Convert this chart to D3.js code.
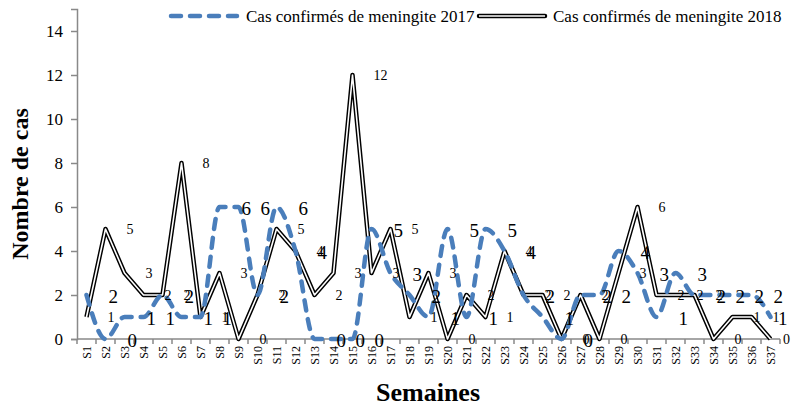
<!DOCTYPE html>
<html>
<head>
<meta charset="utf-8">
<script src="https://cdn.jsdelivr.net/npm/d3@7"></script>
<style>
  body { margin: 0; background: #fff; }
  text { font-family: "Liberation Serif", "Times New Roman", serif; }
</style>
</head>
<body>
<figure id="chart" style="margin:0"></figure>
<script>
// semaines S1..S37
const weeks = d3.range(1, 38).map(i => "S" + i);
const cases2017 = [2, 0, 1, 1, 2, 1, 1, 6, 6, 2, 6, 4, 0, 0, 0, 5, 3, 2, 1, 5, 1, 5, 4, 2, 1, 0, 2, 2, 4, 3, 1, 3, 2, 2, 2, 2, 1];
const cases2018 = [1, 5, 3, 2, 2, 8, 1, 3, 0, 2, 5, 4, 2, 3, 12, 3, 5, 1, 3, 0, 2, 1, 4, 2, 2, 0, 2, 0, 3, 6, 2, 2, 2, 0, 1, 1, 0];
const yTicks = [0, 2, 4, 6, 8, 10, 12, 14];
const seriesNames = ["Cas confirmés de meningite 2017", "Cas confirmés de meningite 2018"];

const width = 791, height = 406;
const plot = { left: 77, right: 780, top: 9, bottom: 339 };
const axisColor = "#898989";
const blue = "#4a7ebb";

const svg = d3.select("#chart").append("svg")
  .attr("width", width)
  .attr("height", height);

const x = d3.scaleBand().domain(weeks).range([plot.left, plot.right]);
const y = d3.scaleLinear().domain([0, 15]).range([plot.bottom, plot.top]);
const cx = d => x(d) + x.bandwidth() / 2;

// y axis
const yAxis = svg.append("g")
  .attr("transform", "translate(" + plot.left + ",0)")
  .call(d3.axisLeft(y).tickValues(yTicks).tickSize(6).tickPadding(8));
yAxis.select(".domain").attr("stroke", axisColor).attr("stroke-width", 1.5);
yAxis.selectAll(".tick line").attr("stroke", axisColor).attr("stroke-width", 1.5);
yAxis.selectAll(".tick text")
  .style("font-family", "Liberation Serif")
  .style("font-size", "17px")
  .attr("fill", "#000");

// x axis (ticks between categories)
const xAxis = svg.append("g").attr("transform", "translate(0," + plot.bottom + ")");
xAxis.append("line")
  .attr("x1", plot.left).attr("x2", plot.right)
  .attr("stroke", axisColor).attr("stroke-width", 1.5);
xAxis.selectAll(".xt")
  .data(weeks.concat(["end"]))
  .enter().append("line")
  .attr("x1", (d, i) => i < weeks.length ? x(d) : plot.right)
  .attr("x2", (d, i) => i < weeks.length ? x(d) : plot.right)
  .attr("y1", 0).attr("y2", 5)
  .attr("stroke", axisColor).attr("stroke-width", 1.5);
xAxis.selectAll(".xl")
  .data(weeks)
  .enter().append("text")
  .attr("transform", d => "translate(" + cx(d) + ",7) rotate(-90)")
  .attr("text-anchor", "end")
  .attr("dominant-baseline", "central")
  .style("font-size", "12px")
  .text(d => d);

// lines
const line = d3.line()
  .x((d, i) => cx(weeks[i]))
  .y(d => y(d));

const line2017 = d3.line()
  .x((d, i) => cx(weeks[i]))
  .y(d => y(d))
  .curve(d3.curveMonotoneX);

svg.append("path")
  .datum(cases2018)
  .attr("d", line)
  .attr("fill", "none")
  .attr("stroke", "#000")
  .attr("stroke-width", 4.5)
  .attr("stroke-linejoin", "round");
svg.append("path")
  .datum(cases2018)
  .attr("d", line)
  .attr("fill", "none")
  .attr("stroke", "#fff")
  .attr("stroke-width", 1.6)
  .attr("stroke-linejoin", "round");

svg.append("path")
  .datum(cases2017)
  .attr("d", line2017)
  .attr("fill", "none")
  .attr("stroke", blue)
  .attr("stroke-width", 4.5)
  .attr("stroke-dasharray", "10,9")
  .attr("stroke-linecap", "round");

// data labels (left edge just right of the point, kept inside the frame)
const labelX = (i, off, maxX) => Math.min(cx(weeks[i]) + off, maxX);
svg.selectAll(".lab18")
  .data(cases2018)
  .enter().append("text")
  .attr("x", (d, i) => labelX(i, 21, 783))
  .attr("y", d => y(d))
  .attr("dominant-baseline", "central")
  .style("font-size", "14px")
  .text(d => d);
svg.selectAll(".lab17")
  .data(cases2017)
  .enter().append("text")
  .attr("x", (d, i) => labelX(i, 22, 778))
  .attr("y", d => y(d) + 1)
  .attr("dominant-baseline", "central")
  .style("font-size", "19px")
  .text(d => d);

// axis titles
svg.append("text")
  .attr("x", 428).attr("y", 401)
  .attr("text-anchor", "middle")
  .style("font-size", "26px")
  .style("font-weight", "bold")
  .text("Semaines");
svg.append("text")
  .attr("transform", "translate(28,184) rotate(-90)")
  .attr("text-anchor", "middle")
  .style("font-size", "24px")
  .style("font-weight", "bold")
  .text("Nombre de cas");

// legend
const legend = svg.append("g");
legend.append("line")
  .attr("x1", 171).attr("x2", 237).attr("y1", 16).attr("y2", 16)
  .attr("stroke", blue).attr("stroke-width", 4.5)
  .attr("stroke-dasharray", "10,9").attr("stroke-linecap", "round");
legend.append("text")
  .attr("x", 246).attr("y", 16)
  .attr("dominant-baseline", "central")
  .style("font-size", "17px")
  .text(seriesNames[0]);
legend.append("line")
  .attr("x1", 479).attr("x2", 545).attr("y1", 16).attr("y2", 16)
  .attr("stroke", "#000").attr("stroke-width", 4.5).attr("stroke-linecap", "round");
legend.append("line")
  .attr("x1", 479).attr("x2", 545).attr("y1", 16).attr("y2", 16)
  .attr("stroke", "#fff").attr("stroke-width", 1.6);
legend.append("text")
  .attr("x", 553).attr("y", 16)
  .attr("dominant-baseline", "central")
  .style("font-size", "17px")
  .text(seriesNames[1]);
</script>
</body>
</html>
